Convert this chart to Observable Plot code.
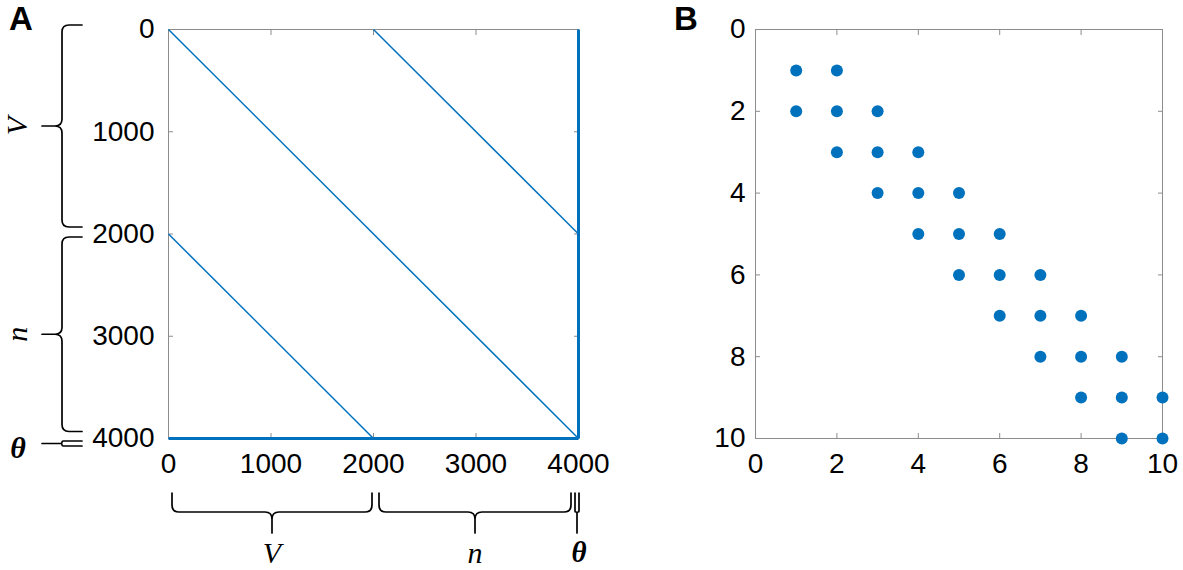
<!DOCTYPE html>
<html><head><meta charset="utf-8">
<script src="https://cdn.jsdelivr.net/npm/d3@7"></script>
<script src="https://cdn.jsdelivr.net/npm/@observablehq/plot@0.6"></script>
<style>
body{margin:0;background:#fff;}
#fig{position:relative;width:1183px;height:570px;overflow:hidden;font-family:"Liberation Sans",Arial,sans-serif;background:#fff;}
.panel{position:absolute;top:0;}
.lab{position:absolute;font-weight:bold;font-size:33px;line-height:1;color:#000;}
</style></head><body>
<div id="fig">
  <div class="panel" id="pa" style="left:0;width:600px;height:570px"></div>
  <div class="panel" id="pb" style="left:600px;width:583px;height:570px"></div>
  <div class="lab" style="left:9px;top:2px">A</div>
  <div class="lab" style="left:674px;top:2px">B</div>
</div>
<script>
// ---------- data ----------
const sizeA = 4000;
const axisTicksA = [0, 1000, 2000, 3000, 4000];
// nonzero diagonals of the sparse matrix (start / end index pairs)
const bandX1 = [0, 2000, 0];
const bandY1 = [0, 0, 2000];
const bandX2 = [4000, 4000, 2000];
const bandY2 = [4000, 2000, 4000];
// full last row and last column
const borderX1 = [0, 4000];
const borderY1 = [4000, 0];
const borderX2 = [4000, 4000];
const borderY2 = [4000, 4000];
// block groups
const groupNames = ["V", "n", "θ"];
const groupStart = [0, 2000, 4000];
const groupEnd = [2000, 4000, 4000];
// panel B: nonzero entries of a 10x10 banded matrix
const bRows = [1,1, 2,2,2, 3,3,3, 4,4,4, 5,5,5, 6,6,6, 7,7,7, 8,8,8, 9,9,9, 10,10];
const bCols = [1,2, 1,2,3, 2,3,4, 3,4,5, 4,5,6, 5,6,7, 6,7,8, 7,8,9, 8,9,10, 9,10];
const sizeB = 10;
const axisTicksB = [0, 2, 4, 6, 8, 10];

// ---------- styles ----------
const blue = "#0072BD";
const axisGray = "#8c8c8c";
const tickFont = "28px";
const mathFont = "'Liberation Serif','DejaVu Serif',serif";
const fmt = d => String(d);

function frameAxes(ticks, padLeft) {
  return [
    Plot.frame({stroke: axisGray, strokeWidth: 1}),
    Plot.axisX({anchor: "bottom", ticks, tickFormat: fmt, tickSize: 0, tickPadding: 15, fill: "#000", label: null}),
    Plot.axisY({anchor: "left", ticks, tickFormat: fmt, tickSize: 0, tickPadding: padLeft, fill: "#000", label: null}),
    Plot.axisX({anchor: "bottom", ticks, tickSize: -5, tickFormat: () => "", stroke: axisGray, label: null}),
    Plot.axisX({anchor: "top", ticks, tickSize: -5, tickFormat: () => "", stroke: axisGray, label: null}),
    Plot.axisY({anchor: "left", ticks, tickSize: -5, tickFormat: () => "", stroke: axisGray, label: null}),
    Plot.axisY({anchor: "right", ticks, tickSize: -5, tickFormat: () => "", stroke: axisGray, label: null})
  ];
}

// curly braces drawn from the scales
function braces(index, scales) {
  const {x, y} = scales;
  const g = d3.create("svg:g");
  const pg = g.append("g").attr("fill", "none").attr("stroke", "#000").attr("stroke-width", 1.7).attr("stroke-linecap", "round");
  const tg = g.append("g").attr("font-family", mathFont).attr("fill", "#000");
  groupNames.forEach((name, i) => {
    const isTheta = groupStart[i] === groupEnd[i];
    // ----- left (rows) -----
    let a, b;
    if (isTheta) { const c = y(groupStart[i]) + 5.5; a = c - 2.5; b = c + 2.5; }
    else { a = y(groupStart[i]) + (i === 0 ? -4 : 3.5); b = y(groupEnd[i]) - 6.5; }
    let m = (a + b) / 2;
    const xb = 62, xe = 82, xt = 42;
    let r = Math.min(7, (b - a) / 4);
    pg.append("path").attr("d",
      `M${xe},${a}H${xb + r}Q${xb},${a} ${xb},${a + r}V${m - r}Q${xb},${m} ${xb - r},${m}H${xt}` +
      `M${xb - r},${m}Q${xb},${m} ${xb},${m + r}V${b - r}Q${xb},${b} ${xb + r},${b}H${xe}`);
    if (isTheta) {
      tg.append("text").attr("x", 18).attr("y", m + 4).attr("text-anchor", "middle").attr("dominant-baseline", "central")
        .attr("font-size", 30).attr("font-style", "italic").attr("font-weight", "bold").text(name);
    } else {
      tg.append("text").attr("transform", `translate(16,${m}) rotate(-90)`).attr("text-anchor", "middle").attr("dominant-baseline", "central")
        .attr("font-size", 30).attr("font-style", "italic").text(name);
    }
    // ----- bottom (columns) -----
    if (isTheta) { const c = x(groupStart[i]) - 1; a = c - 2; b = c + 2; }
    else { a = x(groupStart[i]) + (i === 0 ? 4 : 6); b = x(groupEnd[i]) - (i === 0 ? 1 : 7); }
    m = (a + b) / 2;
    const yb = 512, ye = 493, yt = 533;
    r = Math.min(7, (b - a) / 4);
    pg.append("path").attr("d",
      `M${a},${ye}V${yb - r}Q${a},${yb} ${a + r},${yb}H${m - r}Q${m},${yb} ${m},${yb + r}V${yt}` +
      `M${m},${yb + r}Q${m},${yb} ${m + r},${yb}H${b - r}Q${b},${yb} ${b},${yb - r}V${ye}`);
    const t = tg.append("text").attr("x", isTheta ? b : m).attr("y", 552).attr("text-anchor", "middle")
      .attr("dominant-baseline", "central").attr("font-style", "italic").text(name);
    if (isTheta) t.attr("font-size", 29).attr("font-weight", "bold"); else t.attr("font-size", 30);
  });
  return g.node();
}

const idxBand = d3.range(bandX1.length);
const idxBorder = d3.range(borderX1.length);

const plotA = Plot.plot({
  width: 600, height: 570,
  marginLeft: 168, marginRight: 22, marginTop: 29, marginBottom: 132,
  style: {fontFamily: "'Liberation Sans', Arial, sans-serif", fontSize: tickFont, color: "#000", background: "transparent", overflow: "visible"},
  x: {domain: [0, sizeA]},
  y: {domain: [0, sizeA], reverse: true},
  marks: [
    ...frameAxes(axisTicksA, 14),
    Plot.link(idxBand, {x1: i => bandX1[i], y1: i => bandY1[i], x2: i => bandX2[i], y2: i => bandY2[i], stroke: blue, strokeWidth: 1.5}),
    Plot.link(idxBorder, {x1: i => borderX1[i], y1: i => borderY1[i], x2: i => borderX2[i], y2: i => borderY2[i], stroke: blue, strokeWidth: 3}),
    braces
  ]
});
document.getElementById("pa").appendChild(plotA);

const idxB = d3.range(bRows.length);
const plotB = Plot.plot({
  width: 583, height: 570,
  marginLeft: 155, marginRight: 21, marginTop: 29, marginBottom: 132,
  style: {fontFamily: "'Liberation Sans', Arial, sans-serif", fontSize: tickFont, color: "#000", background: "transparent", overflow: "visible"},
  x: {domain: [0, sizeB]},
  y: {domain: [0, sizeB], reverse: true},
  marks: [
    ...frameAxes(axisTicksB, 10),
    Plot.dot(idxB, {x: i => bCols[i], y: i => bRows[i], r: 6, fill: blue, stroke: "none"})
  ]
});
document.getElementById("pb").appendChild(plotB);
</script>
</body></html>
